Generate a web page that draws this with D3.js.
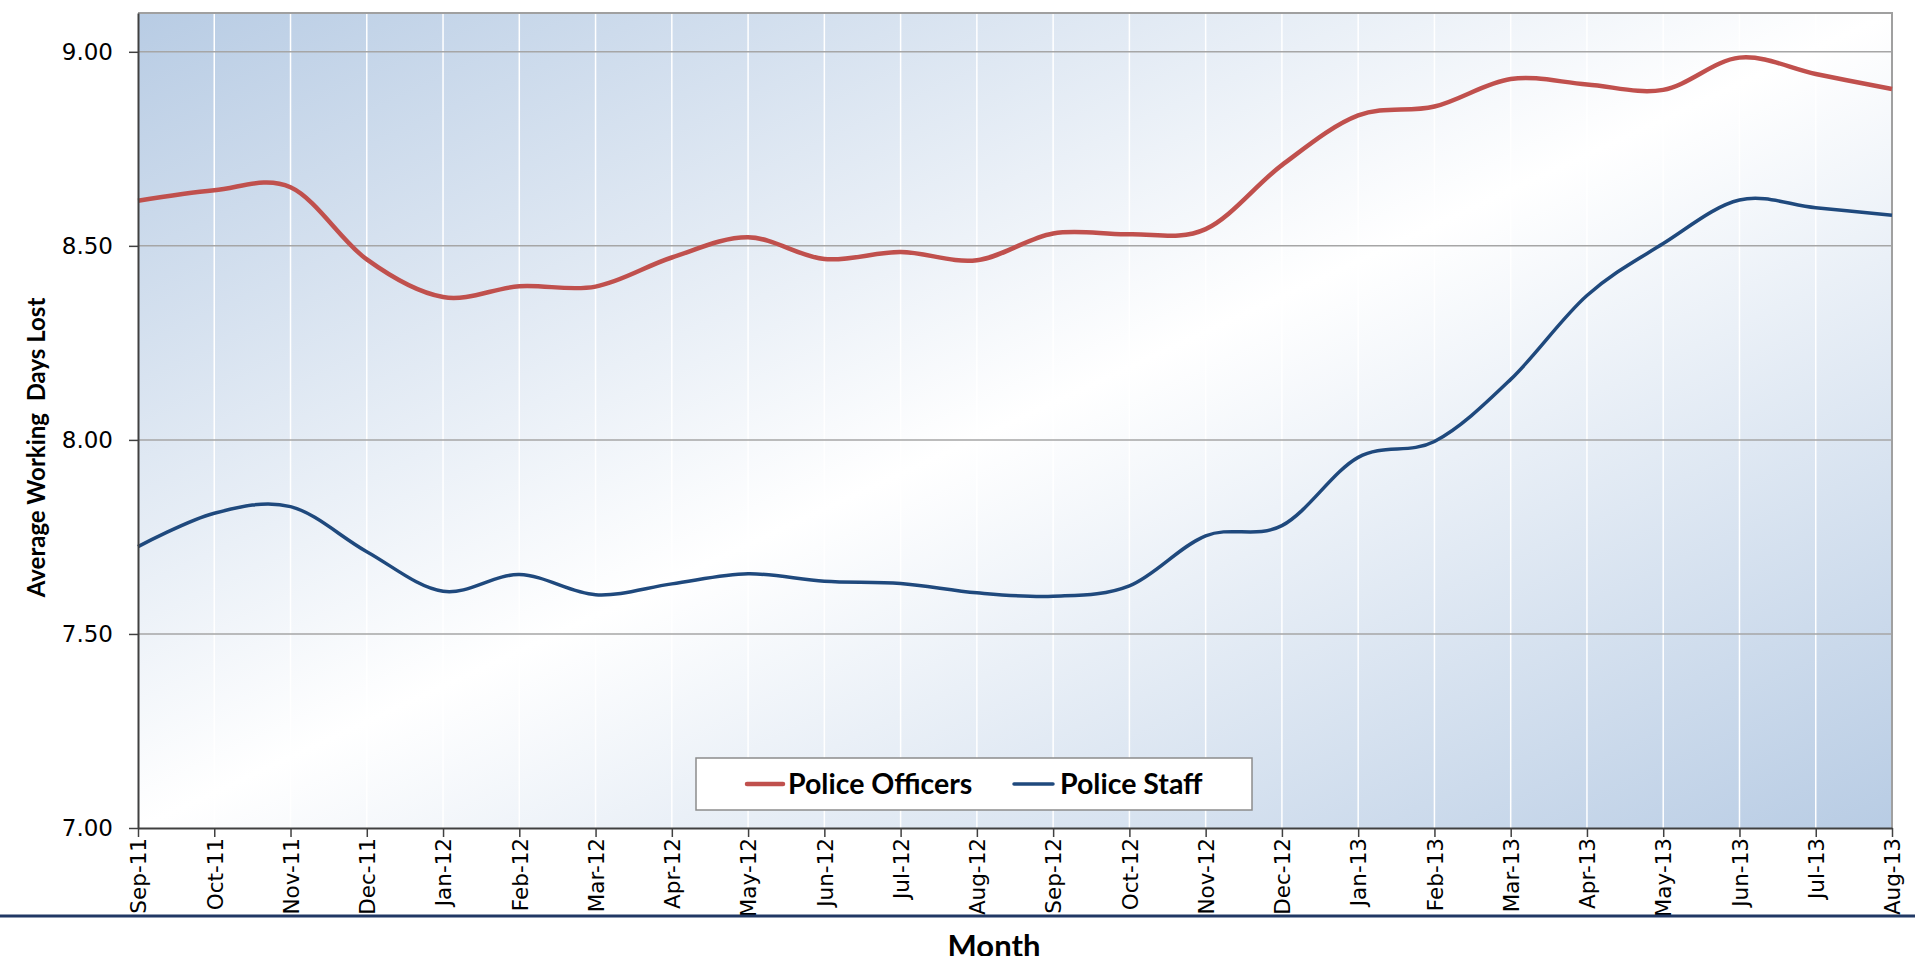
<!DOCTYPE html>
<html>
<head>
<meta charset="utf-8">
<script src="https://cdn.jsdelivr.net/npm/d3@7"></script>
<style>
  body { margin: 0; background: #fff; }
  svg { display: block; }
</style>
</head>
<body>
<script>
// sickness absence, rolling average working days lost per person
const months = ['Sep-11', 'Oct-11', 'Nov-11', 'Dec-11', 'Jan-12', 'Feb-12', 'Mar-12', 'Apr-12',
  'May-12', 'Jun-12', 'Jul-12', 'Aug-12', 'Sep-12', 'Oct-12', 'Nov-12', 'Dec-12',
  'Jan-13', 'Feb-13', 'Mar-13', 'Apr-13', 'May-13', 'Jun-13', 'Jul-13', 'Aug-13'];

const officers = [8.616, 8.643, 8.651, 8.465, 8.368, 8.396, 8.395, 8.470,
  8.522, 8.466, 8.484, 8.463, 8.532, 8.530, 8.543, 8.708,
  8.836, 8.859, 8.930, 8.916, 8.902, 8.985, 8.943, 8.904];

const staff = [7.725, 7.811, 7.828, 7.712, 7.610, 7.653, 7.601, 7.629,
  7.655, 7.636, 7.630, 7.606, 7.597, 7.624, 7.753, 7.779,
  7.955, 7.996, 8.156, 8.372, 8.506, 8.618, 8.598, 8.579];

const yTicks = [7, 7.5, 8, 8.5, 9];
const seriesNames = ['Police Officers', 'Police Staff'];
const seriesColors = ['#c0504d', '#1f497d'];

const w = 1915;
const h = 956;
const plotLeft = 138, plotRight = 1892, plotTop = 13, plotBottom = 828;

const svg = d3.select('body')
  .append('svg')
  .attr('width', w)
  .attr('height', h);

const x = d3.scalePoint()
  .domain(months)
  .range([plotLeft, plotRight]);

const y = d3.scaleLinear()
  .domain([7, 9.1])
  .range([plotBottom, plotTop]);

// diagonal background, blue corners fading to white across the middle
const grad = svg.append('defs')
  .append('linearGradient')
  .attr('id', 'bg')
  .attr('x1', 0).attr('y1', 0)
  .attr('x2', 1).attr('y2', 1);
grad.append('stop').attr('offset', '0%').attr('stop-color', '#b8cce4');
grad.append('stop').attr('offset', '50%').attr('stop-color', '#ffffff');
grad.append('stop').attr('offset', '100%').attr('stop-color', '#b8cce4');

svg.append('rect')
  .attr('x', plotLeft)
  .attr('y', plotTop)
  .attr('width', plotRight - plotLeft)
  .attr('height', plotBottom - plotTop)
  .attr('fill', 'url(#bg)');

// vertical white gridlines
svg.selectAll('.vgrid')
  .data(months)
  .enter()
  .append('line')
  .attr('class', 'vgrid')
  .attr('x1', d => x(d))
  .attr('x2', d => x(d))
  .attr('y1', plotTop)
  .attr('y2', plotBottom)
  .attr('stroke', '#ffffff')
  .attr('stroke-width', 1.5);

// horizontal grey gridlines
svg.selectAll('.hgrid')
  .data(yTicks.slice(1))
  .enter()
  .append('line')
  .attr('class', 'hgrid')
  .attr('x1', plotLeft)
  .attr('x2', plotRight)
  .attr('y1', d => y(d))
  .attr('y2', d => y(d))
  .attr('stroke', '#a6a6a6')
  .attr('stroke-width', 1.5);

// top and right border of plot area
svg.append('path')
  .attr('d', `M${plotLeft},${plotTop}H${plotRight}V${plotBottom}`)
  .attr('fill', 'none')
  .attr('stroke', '#a0a0a0')
  .attr('stroke-width', 2);

const line = d3.line()
  .x((d, i) => x(months[i]))
  .y(d => y(d))
  .curve(d3.curveCardinal.tension(0));

svg.append('path')
  .datum(staff)
  .attr('d', line)
  .attr('fill', 'none')
  .attr('stroke', seriesColors[1])
  .attr('stroke-width', 3.5);

svg.append('path')
  .datum(officers)
  .attr('d', line)
  .attr('fill', 'none')
  .attr('stroke', seriesColors[0])
  .attr('stroke-width', 4.5);

// axes
const yAxis = svg.append('g')
  .attr('transform', `translate(${plotLeft},0)`)
  .call(d3.axisLeft(y).tickValues(yTicks).tickFormat(d3.format('.2f'))
    .tickSize(9).tickSizeOuter(0).tickPadding(16));

const xAxis = svg.append('g')
  .attr('transform', `translate(0,${plotBottom})`)
  .call(d3.axisBottom(x).tickSize(9).tickSizeOuter(0));

for (let g of [yAxis, xAxis]) {
  g.select('.domain').attr('stroke', '#404040').attr('stroke-width', 2);
  g.selectAll('.tick line').attr('stroke', '#404040').attr('stroke-width', 1.5);
  g.selectAll('text')
    .attr('fill', '#000')
    .style('font-family', '"DejaVu Sans", sans-serif')
    .style('font-size', '21.5px');
}
yAxis.selectAll('text').style('font-size', '23px');

xAxis.selectAll('text')
  .attr('transform', 'rotate(-90)')
  .attr('x', -10)
  .attr('y', 0)
  .attr('dy', '0.36em')
  .style('text-anchor', 'end');

// axis titles
svg.append('text')
  .attr('transform', `translate(37,${(plotTop + plotBottom) / 2 + 27}) rotate(-90)`)
  .attr('text-anchor', 'middle')
  .attr('dy', '0.35em')
  .style('font-family', 'Lato, sans-serif')
  .style('font-weight', 'bold')
  .style('font-size', '24px')
  .style('white-space', 'pre')
  .text('Average Working  Days Lost');

svg.append('line')
  .attr('x1', 0)
  .attr('x2', w)
  .attr('y1', 916)
  .attr('y2', 916)
  .attr('stroke', '#203864')
  .attr('stroke-width', 3);

svg.append('text')
  .attr('x', 994)
  .attr('y', 957)
  .attr('text-anchor', 'middle')
  .style('font-family', 'Lato, sans-serif')
  .style('font-weight', 'bold')
  .style('font-size', '31px')
  .text('Month');

// legend
const legend = svg.append('g');
legend.append('rect')
  .attr('x', 696)
  .attr('y', 758)
  .attr('width', 556)
  .attr('height', 52)
  .attr('fill', '#fff')
  .attr('stroke', '#8c8c8c')
  .attr('stroke-width', 1.5);

const legendX = [747, 1014];
const items = legend.selectAll('.item')
  .data(seriesNames)
  .enter()
  .append('g')
  .attr('class', 'item')
  .attr('transform', (d, i) => `translate(${legendX[i]},784)`);

items.append('line')
  .attr('x1', 0)
  .attr('x2', (d, i) => i === 0 ? 36 : 39)
  .attr('stroke', (d, i) => seriesColors[i])
  .attr('stroke-width', (d, i) => i === 0 ? 4.5 : 3.5)
  .attr('stroke-linecap', 'round');

items.append('text')
  .attr('x', (d, i) => i === 0 ? 41 : 46)
  .attr('dy', '0.36em')
  .style('font-family', 'Lato, sans-serif')
  .style('font-weight', 'bold')
  .style('font-size', '28.5px')
  .text(d => d);
</script>
</body>
</html>
